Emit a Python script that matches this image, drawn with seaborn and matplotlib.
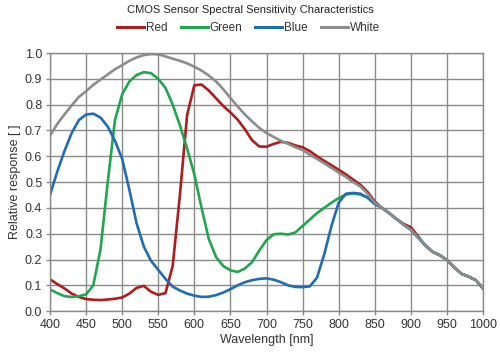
import numpy as np
import pandas as pd
import matplotlib
matplotlib.use("Agg")
import matplotlib.pyplot as plt
import seaborn as sns

# --- Data (10 nm steps) ---
wavelength = list(range(400, 1001, 10))

red = [0.123, 0.105, 0.088, 0.068, 0.055, 0.047, 0.044, 0.043, 0.045, 0.048,
       0.053, 0.068, 0.090, 0.098, 0.075, 0.063, 0.070, 0.175, 0.45, 0.76,
       0.875, 0.878, 0.855, 0.825, 0.795, 0.77, 0.742, 0.705, 0.662, 0.638,
       0.637, 0.648, 0.656, 0.652, 0.642, 0.635, 0.62, 0.60, 0.582, 0.565,
       0.548, 0.53, 0.51, 0.49, 0.462, 0.425, 0.40, 0.38, 0.357, 0.338,
       0.325, 0.29, 0.255, 0.23, 0.217, 0.198, 0.17, 0.145, 0.134, 0.12,
       0.088]

green = [0.084, 0.070, 0.058, 0.055, 0.058, 0.065, 0.10, 0.24, 0.50, 0.74,
         0.84, 0.89, 0.915, 0.926, 0.922, 0.90, 0.865, 0.80, 0.72, 0.63,
         0.53, 0.40, 0.28, 0.21, 0.175, 0.158, 0.152, 0.165, 0.19, 0.235,
         0.275, 0.298, 0.30, 0.297, 0.305, 0.33, 0.355, 0.38, 0.40, 0.42,
         0.438, 0.452, 0.456, 0.452, 0.44, 0.415, 0.40, 0.38, 0.357, 0.335,
         0.315, 0.285, 0.255, 0.23, 0.217, 0.198, 0.17, 0.145, 0.134, 0.12,
         0.088]

blue = [0.45, 0.54, 0.62, 0.69, 0.74, 0.762, 0.765, 0.75, 0.715, 0.66,
        0.59, 0.47, 0.34, 0.25, 0.195, 0.16, 0.125, 0.095, 0.08, 0.068,
        0.060, 0.055, 0.056, 0.062, 0.072, 0.085, 0.10, 0.112, 0.12, 0.125,
        0.127, 0.122, 0.112, 0.100, 0.094, 0.093, 0.096, 0.13, 0.22, 0.33,
        0.42, 0.455, 0.458, 0.455, 0.44, 0.415, 0.40, 0.38, 0.357, 0.335,
        0.315, 0.285, 0.255, 0.23, 0.217, 0.198, 0.17, 0.145, 0.134, 0.12,
        0.088]

white = [0.68, 0.725, 0.762, 0.797, 0.83, 0.852, 0.877, 0.897, 0.917, 0.937,
         0.953, 0.97, 0.983, 0.992, 0.996, 0.995, 0.987, 0.978, 0.97, 0.96,
         0.947, 0.932, 0.913, 0.89, 0.86, 0.826, 0.793, 0.762, 0.735, 0.71,
         0.69, 0.675, 0.66, 0.648, 0.635, 0.624, 0.606, 0.59, 0.573, 0.555,
         0.537, 0.52, 0.50, 0.483, 0.455, 0.42, 0.40, 0.38, 0.357, 0.335,
         0.315, 0.285, 0.255, 0.23, 0.217, 0.198, 0.17, 0.145, 0.134, 0.12,
         0.088]

series_names = ["Red", "Green", "Blue", "White"]
series_colors = ["#B01B1B", "#1FA64E", "#1F6DB3", "#8C8C8C"]

x_ticks = list(range(400, 1001, 50))
y_ticks = [round(v * 0.1, 1) for v in range(0, 11)]

# --- Long-form table for seaborn ---
df = pd.concat([
    pd.DataFrame({"wavelength": wavelength, "response": vals, "series": name})
    for name, vals in zip(series_names, [red, green, blue, white])
], ignore_index=True)

plt.rcParams["font.family"] = ["Liberation Sans", "DejaVu Sans"]

fig = plt.figure(figsize=(5.0, 3.56), dpi=100)
ax = fig.add_axes([0.10, 0.126, 0.866, 0.725])

grid_col = "#8A8A8A"
text_col = "#333333"

sns.lineplot(
    data=df, x="wavelength", y="response", hue="series",
    hue_order=series_names, palette=dict(zip(series_names, series_colors)),
    linewidth=1.9, ax=ax, legend=False, sort=False,
)

ax.set_xlim(400, 1000)
ax.set_ylim(0, 1.0)
ax.set_xticks(x_ticks)
ax.set_yticks(y_ticks)
ax.set_yticklabels([f"{v:.1f}" for v in y_ticks])
ax.grid(True, color=grid_col, linewidth=1.0)
ax.set_axisbelow(True)
for s in ax.spines.values():
    s.set_color(grid_col)
    s.set_linewidth(1.0)
ax.tick_params(axis="both", colors=grid_col, length=3, width=1.0,
               labelcolor=text_col, labelsize=9, pad=2.5)

ax.set_xlabel("Wavelength [nm]", fontsize=9, color=text_col, labelpad=2)
ax.set_ylabel("Relative response [ ]", fontsize=9, color=text_col, labelpad=3)

fig.text(0.5, 0.972, "CMOS Sensor Spectral Sensitivity Characteristics",
         ha="center", va="center", fontsize=8, color="#222222")

handles = [plt.Line2D([], [], color=c, linewidth=2.2) for c in series_colors]
fig.legend(handles, series_names, loc="center", bbox_to_anchor=(0.497, 0.922),
           ncol=4, frameon=False, fontsize=8.5, handlelength=2.3,
           handletextpad=0.15, columnspacing=1.1, labelcolor=text_col)

fig.savefig("out.png", dpi=100, facecolor="white")
